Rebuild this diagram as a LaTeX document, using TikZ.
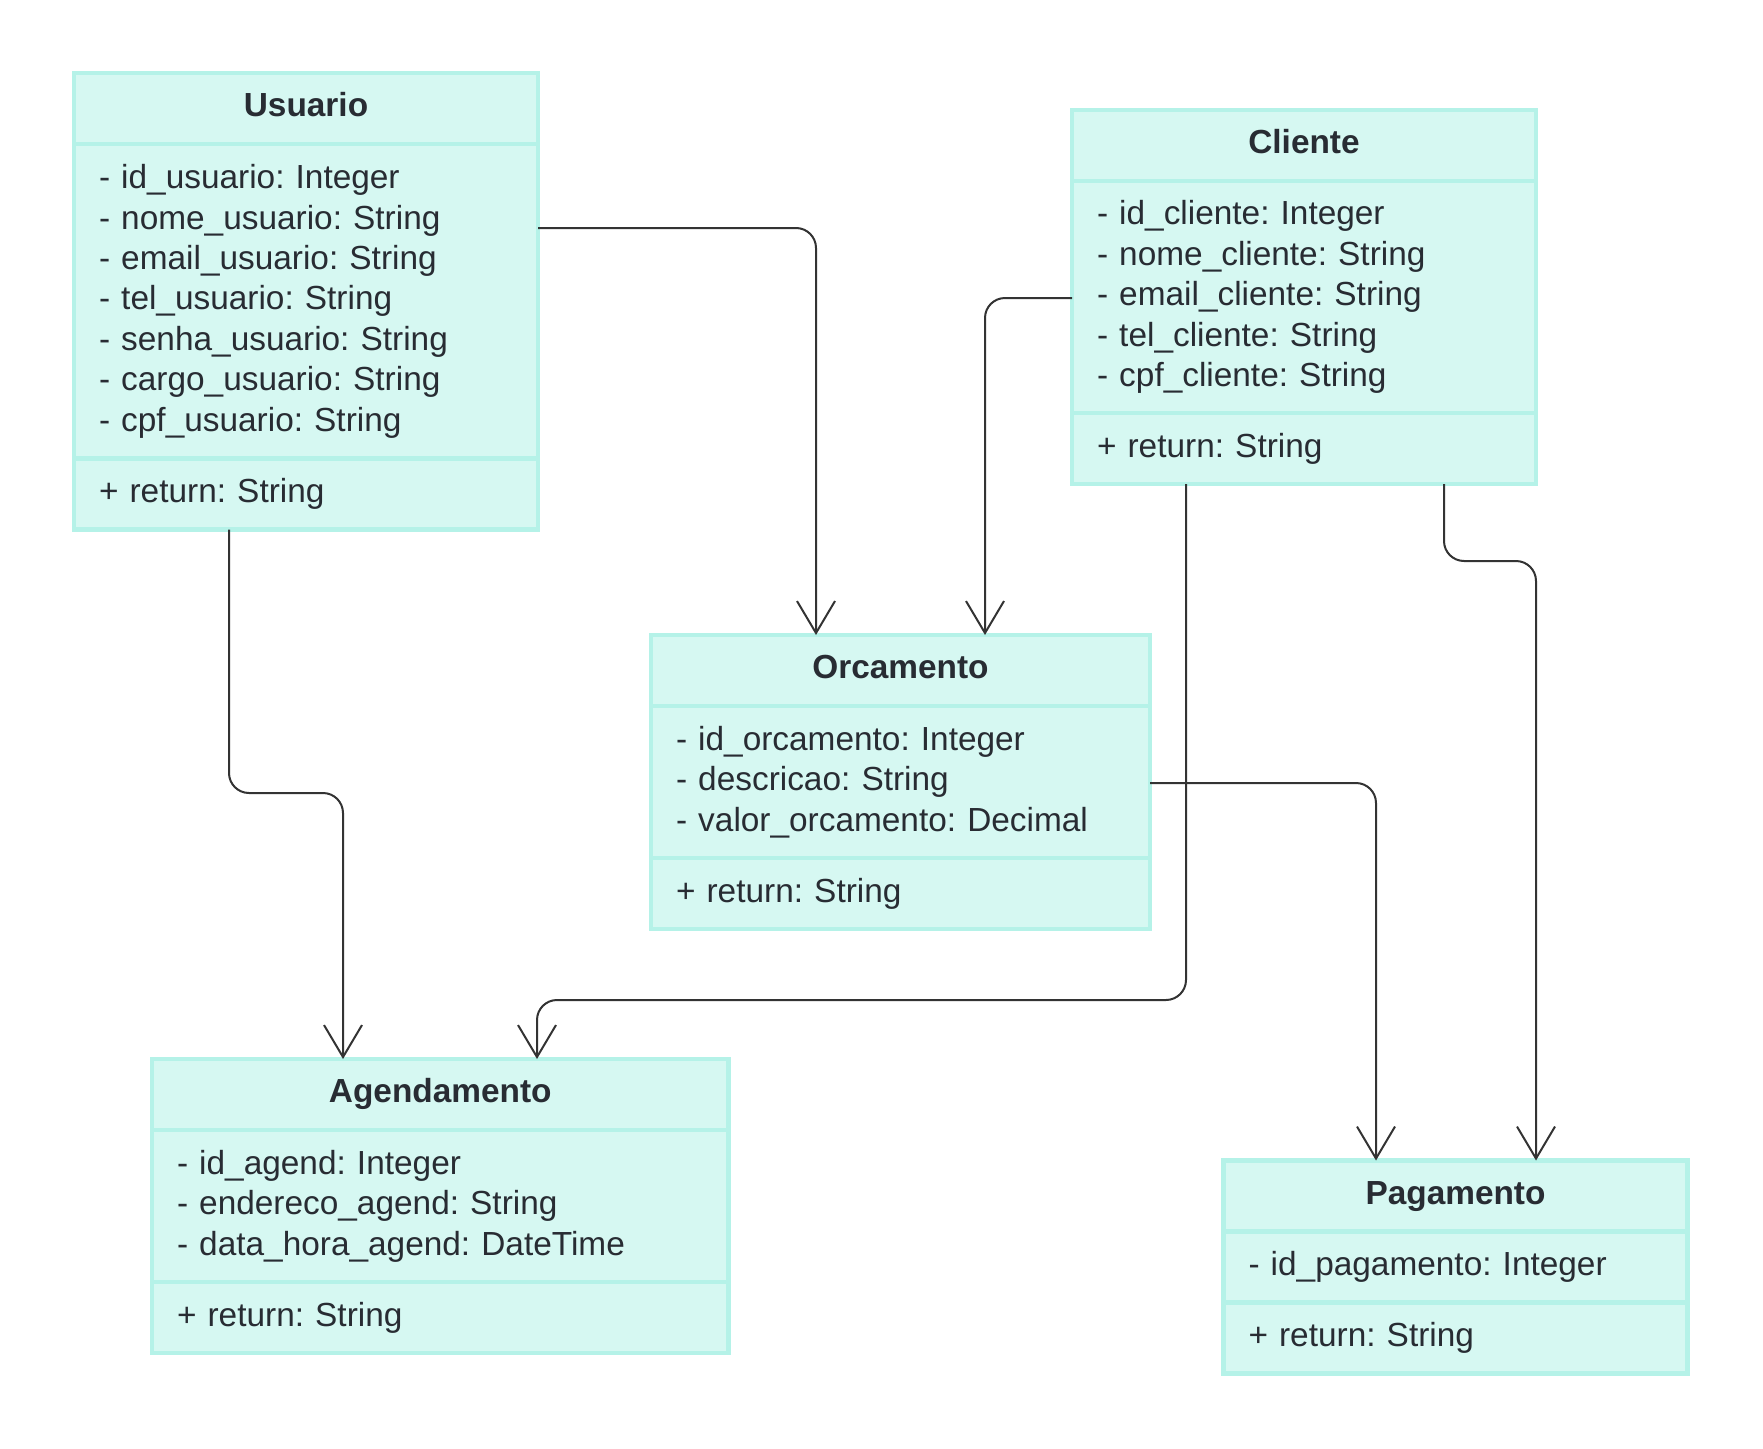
\documentclass[tikz,border=0pt]{standalone}
\usepackage{fontspec}
\setmainfont{Liberation Sans}
\usepackage{xcolor}
\usetikzlibrary{positioning,arrows.meta,calc}

\definecolor{classfill}{HTML}{D6F8F2}
\definecolor{classline}{HTML}{B5F2E8}
\definecolor{textdark}{HTML}{282C33}
\definecolor{linkdark}{HTML}{333333}

\frenchspacing

\begin{document}
\begin{tikzpicture}[
    node distance=0pt,
    >={Straight Barb[length=0.64cm,width=0.76cm]},
    font=\fontsize{19pt}{23pt}\selectfont,
    every node/.style={text=textdark},
    classhead/.style={draw=classline, fill=classfill, line width=0.09cm,
        outer sep=0pt, inner sep=0pt, minimum height=1.42cm,
        text height=0.5cm, text depth=0.18cm,
        font=\fontsize{19pt}{23pt}\selectfont\bfseries},
    classbody/.style={draw=classline, fill=classfill, line width=0.09cm,
        outer sep=0pt, inner xsep=0.5cm, inner ysep=0pt, align=left},
    assoc/.style={->, draw=linkdark, line width=0.04cm, rounded corners=0.4cm}
]

\useasboundingbox (0,0) rectangle (35.26,-28.98);

% Usuario
\node[classhead, minimum width=9.28cm, anchor=north west] (usuario) at (1.48,-1.46) {Usuario};
\node[classbody, text width=8.28cm, minimum height=6.29cm, below=of usuario] (usuarioAttr)
    {- id\_usuario: Integer\\- nome\_usuario: String\\- email\_usuario: String\\- tel\_usuario: String\\- senha\_usuario: String\\- cargo\_usuario: String\\- cpf\_usuario: String};
\node[classbody, text width=8.28cm, minimum height=1.42cm, below=of usuarioAttr] (usuarioOps) {+ return: String};

% Cliente
\node[classhead, minimum width=9.28cm, anchor=north west] (cliente) at (21.44,-2.20) {Cliente};
\node[classbody, text width=8.28cm, minimum height=4.64cm, below=of cliente] (clienteAttr)
    {- id\_cliente: Integer\\- nome\_cliente: String\\- email\_cliente: String\\- tel\_cliente: String\\- cpf\_cliente: String};
\node[classbody, text width=8.28cm, minimum height=1.42cm, below=of clienteAttr] (clienteOps) {+ return: String};

% Orcamento
\node[classhead, minimum width=9.98cm, anchor=north west] (orcamento) at (13.02,-12.70) {Orcamento};
\node[classbody, text width=8.98cm, minimum height=3.04cm, below=of orcamento] (orcamentoAttr)
    {- id\_orcamento: Integer\\- descricao: String\\- valor\_orcamento: Decimal};
\node[classbody, text width=8.98cm, minimum height=1.42cm, below=of orcamentoAttr] (orcamentoOps) {+ return: String};

% Agendamento
\node[classhead, minimum width=11.53cm, anchor=north west] (agendamento) at (3.04,-21.18) {Agendamento};
\node[classbody, text width=10.53cm, minimum height=3.04cm, below=of agendamento] (agendamentoAttr)
    {- id\_agend: Integer\\- endereco\_agend: String\\- data\_hora\_agend: DateTime};
\node[classbody, text width=10.53cm, minimum height=1.42cm, below=of agendamentoAttr] (agendamentoOps) {+ return: String};

% Pagamento
\node[classhead, minimum width=9.28cm, anchor=north west] (pagamento) at (24.47,-23.21) {Pagamento};
\node[classbody, text width=8.28cm, minimum height=1.42cm, below=of pagamento] (pagamentoAttr) {- id\_pagamento: Integer};
\node[classbody, text width=8.28cm, minimum height=1.42cm, below=of pagamentoAttr] (pagamentoOps) {+ return: String};

% Associations
\draw[assoc] ($(usuarioAttr.north east)+(0,-1.68)$) -| ($(orcamento.north west)+(3.30,0)$);
\draw[assoc] ($(clienteAttr.north west)+(0,-2.34)$) -| ($(orcamento.north west)+(6.68,0)$);
\draw[assoc] ($(usuarioOps.south west)+(3.10,0)$) |- ($(agendamento.north west)+(3.82,5.32)$)
    -- ($(agendamento.north west)+(3.82,0)$);
\draw[assoc] ($(clienteOps.south west)+(2.28,0)$) |- ($(agendamento.north west)+(7.70,1.18)$)
    -- ($(agendamento.north west)+(7.70,0)$);
\draw[assoc] ($(orcamentoAttr.north east)+(0,-1.54)$) -| ($(pagamento.north west)+(3.05,0)$);
\draw[assoc] ($(clienteOps.south west)+(7.44,0)$) |- ($(pagamento.north west)+(6.25,11.99)$)
    -- ($(pagamento.north west)+(6.25,0)$);

\end{tikzpicture}
\end{document}
